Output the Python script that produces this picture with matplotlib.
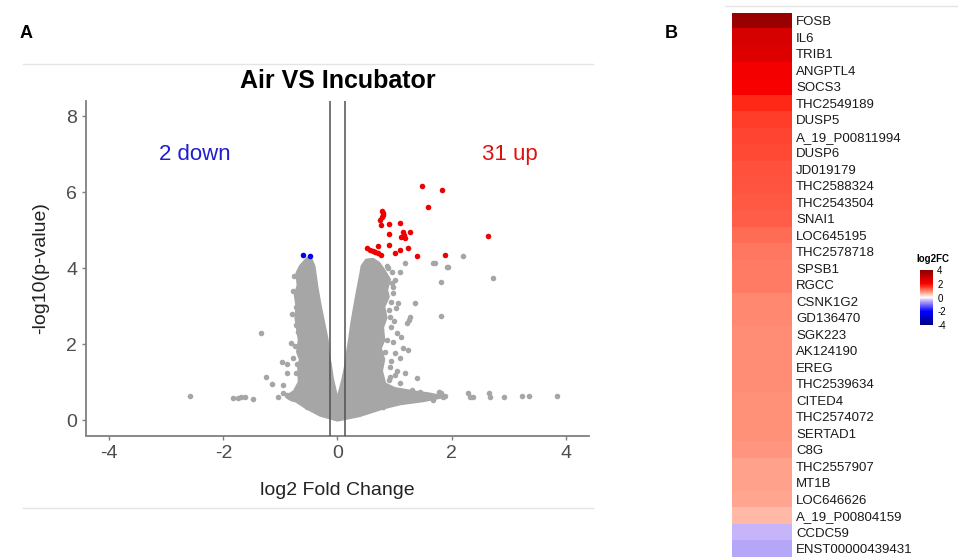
import numpy as np
import matplotlib
matplotlib.use("Agg")
import matplotlib.pyplot as plt
from matplotlib.colors import LinearSegmentedColormap, Normalize
from matplotlib.cm import ScalarMappable
from matplotlib.lines import Line2D

plt.rcParams['font.family'] = ['Liberation Sans', 'DejaVu Sans']
plt.rcParams['axes.unicode_minus'] = False

# ---- panel A: volcano data ----
# dense grey cloud outline (log2FC, -log10 p)
cloud_x = [0.0, -0.04, -0.10, -0.13, -0.17, -0.19, -0.25, -0.31, -0.37, -0.42, -0.47,
           -0.52, -0.58, -0.64, -0.70, -0.68, -0.73, -0.70, -0.72, -0.69, -0.66,
           -0.69, -0.64, -0.67, -0.66, -0.75, -0.88, -0.80, -0.72, -0.54, -0.30,
           0.0, 0.39, 0.80, 1.10, 1.50, 1.80, 1.60, 1.40, 1.00, 0.82, 0.76, 0.80,
           0.74, 0.80, 0.78, 0.84, 0.80, 0.88, 0.85, 0.90, 0.80, 0.72, 0.62, 0.51,
           0.44, 0.42, 0.36, 0.31, 0.26, 0.22, 0.18, 0.15, 0.10, 0.04]
cloud_y = [0.36, 0.71, 1.10, 1.41, 1.75, 2.11, 2.55, 2.99, 3.50, 4.04, 4.22,
           4.25, 4.15, 4.05, 3.87, 3.55, 3.30, 2.99, 2.70, 2.40, 2.11,
           1.80, 1.60, 1.40, 1.00, 0.75, 0.62, 0.55, 0.52, 0.34, 0.15,
           0.02, 0.14, 0.34, 0.45, 0.53, 0.62, 0.68, 0.72, 0.82, 0.95, 1.30, 1.60,
           1.90, 2.11, 2.45, 2.70, 2.99, 3.25, 3.43, 3.70, 3.95, 4.12, 4.22, 4.20,
           4.05, 3.87, 3.40, 2.99, 2.55, 2.11, 1.75, 1.41, 1.05, 0.71]

# scattered grey genes outside the dense cloud
grey_x = [-2.58, -1.835, -1.74, -1.695, -1.62, -1.475, -1.345, -1.26, -1.14, -0.95,
          -1.05, -0.98, -0.89, -0.89, -0.82, -0.785, -0.73, -0.69, -0.73, -0.715,
          -0.73, -0.66, -0.95, -0.89, -0.83, -0.54, -0.78, -0.76, -0.80, -0.74,
          1.70, 1.92, 1.81, 1.81, 1.36, 1.27, 1.26, 1.18, 1.09, 1.065, 0.92, 1.04,
          1.01, 0.86, 0.92, 1.18, 1.39, 1.445, 1.59, 1.67, 1.78, 1.88, 0.66, 0.80,
          0.74, 1.01, 0.63, 0.80, 0.98, 1.21, 1.09, 2.20, 1.94, 2.73, 1.82, 1.85,
          2.29, 2.32, 2.38, 2.66, 2.67, 2.92, 3.24, 3.36, 3.85, 1.68, 0.88, 0.95,
          0.90, 0.84, 0.96, 1.02, 0.93, 0.98, 1.10, 0.94, 1.05, 0.90, 1.12, 0.97,
          1.00, 0.93, 1.15, 1.24, 0.99, 1.30, 0.86, 0.92]
grey_y = [0.63, 0.59, 0.58, 0.62, 0.62, 0.57, 2.30, 1.14, 0.96, 0.94,
          0.61, 1.53, 1.48, 1.25, 2.03, 1.65, 2.51, 2.33, 2.99, 1.48,
          1.25, 1.25, 0.71, 0.67, 0.62, 0.34, 3.40, 3.80, 2.80, 1.95,
          4.13, 4.04, 3.65, 2.74, 3.08, 2.73, 2.64, 4.13, 3.91, 3.08, 2.73, 2.29,
          1.76, 2.11, 1.41, 1.24, 1.10, 0.75, 0.64, 0.53, 0.75, 0.64, 0.32, 0.36,
          3.69, 3.69, 2.46, 3.17, 3.34, 2.55, 0.97, 4.31, 4.03, 3.74, 0.71, 0.62,
          0.73, 0.62, 0.62, 0.73, 0.62, 0.60, 0.65, 0.65, 0.64, 4.15, 4.00, 3.60,
          2.90, 1.80, 3.90, 2.95, 2.45, 2.05, 1.65, 1.55, 1.30, 1.05, 2.20, 3.50,
          1.20, 3.10, 1.90, 1.85, 2.60, 0.80, 4.05, 1.15]

up_x = [1.485, 1.825, 1.59, 2.63, 0.785, 0.80, 0.775, 0.75, 0.76, 0.90, 1.09,
        0.91, 1.14, 1.11, 1.19, 1.275, 0.90, 0.71, 0.51, 0.57, 0.62, 0.66, 0.71,
        0.76, 1.01, 1.09, 1.24, 1.40, 1.89, 0.79, 1.16]
up_y = [6.17, 6.06, 5.62, 4.84, 5.51, 5.40, 5.36, 5.27, 5.13, 5.16, 5.18,
        4.89, 4.95, 4.83, 4.79, 4.95, 4.61, 4.59, 4.53, 4.48, 4.45, 4.42, 4.39,
        4.35, 4.39, 4.47, 4.52, 4.33, 4.36, 5.45, 4.88]

down_x = [-0.60, -0.49]
down_y = [4.34, 4.33]

fc_cut = 0.1375

# ---- panel B: heatmap data ----
genes = ["FOSB", "IL6", "TRIB1", "ANGPTL4", "SOCS3", "THC2549189", "DUSP5",
         "A_19_P00811994", "DUSP6", "JD019179", "THC2588324", "THC2543504", "SNAI1",
         "LOC645195", "THC2578718", "SPSB1", "RGCC", "CSNK1G2", "GD136470", "SGK223",
         "AK124190", "EREG", "THC2539634", "CITED4", "THC2574072", "SERTAD1", "C8G",
         "THC2557907", "MT1B", "LOC646626", "A_19_P00804159", "CCDC59",
         "ENST00000439431"]
log2fc = [3.72, 2.67, 2.59, 2.17, 2.09, 1.67, 1.50, 1.45, 1.42, 1.37, 1.33, 1.31,
          1.28, 1.15, 1.04, 1.03, 1.00, 0.92, 0.91, 0.90, 0.89, 0.89, 0.88, 0.87,
          0.86, 0.85, 0.82, 0.74, 0.72, 0.70, 0.56, -0.43, -0.55]

# colour scale stops (value, colour)
scale_vals = [-4, -2, -0.43, 0, 0.56, 0.86, 1.0, 1.3, 1.67, 2, 4]
scale_cols = ['#000080', '#0000ff', '#c6b4f8', '#ffffff', '#ffb8a5', '#ff927a',
              '#ff7e66', '#ff5a44', '#ff2a18', '#ff0000', '#8b0000']

fig = plt.figure(figsize=(9.58, 5.57), dpi=100)

# light panel frames
fig.add_artist(Line2D([23/958, 593/958], [1-64/557, 1-64/557], color='#e4e4e4', lw=1))
fig.add_artist(Line2D([23/958, 593/958], [1-508/557, 1-508/557], color='#e4e4e4', lw=1))
fig.add_artist(Line2D([725/958, 1.0], [1-6/557, 1-6/557], color='#e4e4e4', lw=1))

fig.text(20/958, 1-33/557, "A", fontsize=13, fontweight='bold', va='center', ha='left')
fig.text(665/958, 1-33/557, "B", fontsize=13, fontweight='bold', va='center', ha='left')

ax = fig.add_axes([86.3/958, (557-435.5)/557, 502.4/958, 334.5/557])
grey = '#a6a6a6'
ax.fill(cloud_x, cloud_y, color=grey, ec=grey, lw=3, joinstyle='round', zorder=1)
ax.scatter(grey_x, grey_y, s=16, color=grey, lw=0, zorder=2)
ax.axvline(-fc_cut, color='#505050', lw=1.1, zorder=3)
ax.axvline(fc_cut, color='#505050', lw=1.1, zorder=3)
ax.scatter(up_x, up_y, s=16, color='#f00000', lw=0, zorder=4)
ax.scatter(down_x, down_y, s=16, color='#0000ee', lw=0, zorder=4)

ax.text(-2.5, 6.99, "2 down", color='#1f1fd0', fontsize=16, ha='center', va='center')
ax.text(3.02, 6.99, "31 up", color='#e01010', fontsize=16, ha='center', va='center')

ax.set_xlim(-4.4, 4.4)
ax.set_ylim(-0.4, 8.4)
ax.set_xticks([-4, -2, 0, 2, 4])
ax.set_yticks([0, 2, 4, 6, 8])
ax.tick_params(colors='#7f7f7f', labelcolor='#4d4d4d', labelsize=14, length=3, width=1)
for side in ['top', 'right']:
    ax.spines[side].set_visible(False)
for side in ['left', 'bottom']:
    ax.spines[side].set_color('#7f7f7f')
    ax.spines[side].set_linewidth(1.3)
ax.set_title("Air VS Incubator", fontsize=18, fontweight='bold', pad=9)
ax.set_xlabel("log2 Fold Change", fontsize=14, labelpad=15, color='#222222')
ax.set_ylabel("-log10(p-value)", fontsize=14, labelpad=12, color='#222222')

# heatmap
pos = [(v + 4) / 8 for v in scale_vals]
cmap = LinearSegmentedColormap.from_list('fc', list(zip(pos, scale_cols)))
norm = Normalize(vmin=-4, vmax=4)
hx = fig.add_axes([732/958, 0.0, 60/958, 544.5/557])
hx.imshow(np.array(log2fc).reshape(-1, 1), cmap=cmap, norm=norm, aspect='auto',
          interpolation='nearest')
hx.set_xticks([])
hx.set_yticks(range(len(genes)))
hx.set_yticklabels(genes, fontsize=9.5, color='#1a1a1a')
hx.yaxis.tick_right()
hx.tick_params(axis='y', length=0, pad=3)
for s in hx.spines.values():
    s.set_visible(False)

cax = fig.add_axes([920/958, (557-325)/557, 13/958, 55/557])
cb = fig.colorbar(ScalarMappable(norm=norm, cmap=cmap), cax=cax, ticks=[-4, -2, 0, 2, 4])
cb.outline.set_visible(False)
cax.tick_params(labelsize=7, length=2, color='white', pad=1)
cax.set_yticklabels(['-4', '-2', '0', '2', '4'])
fig.text(933/958, 1-259/557, "log2FC", fontsize=7, fontweight='bold', ha='center', va='center')

fig.savefig("out.png", dpi=100)
